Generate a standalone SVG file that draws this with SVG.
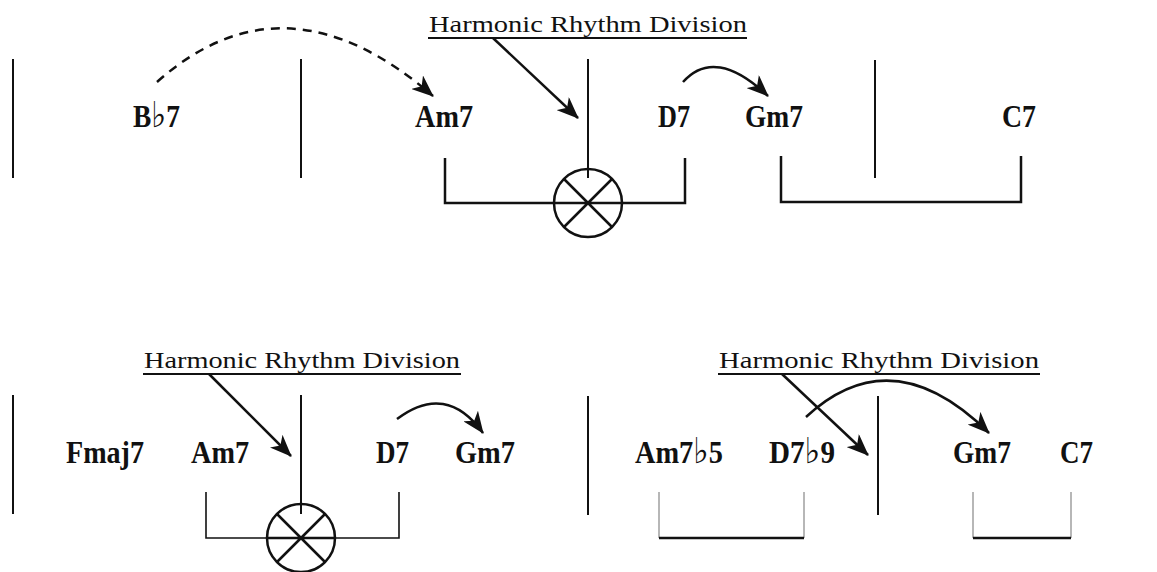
<svg xmlns="http://www.w3.org/2000/svg" width="1157" height="572" viewBox="0 0 1157 572">
<style>
.chord{font-family:"Liberation Serif","Times New Roman",serif;font-weight:bold;font-size:31px;fill:#111}
.flat{font-family:"DejaVu Sans","Liberation Serif",sans-serif;font-weight:normal;font-size:36px}
.hrd{font-family:"Liberation Serif","Times New Roman",serif;font-size:23px;fill:#111}
.bar{stroke:#111;stroke-width:2;fill:none}
.br{stroke:#111;stroke-width:2.5;fill:none}
.arr{stroke:#111;stroke-width:2.5;fill:none;marker-end:url(#ah)}
.circ{stroke:#111;stroke-width:2.5;fill:#fff}
</style>
<defs>
<marker id="ah" markerUnits="userSpaceOnUse" viewBox="0 0 22 18" refX="21" refY="9" markerWidth="22" markerHeight="18" orient="auto">
<path d="M0,0 L22,9 L0,18 L6,9 Z" fill="#111"/>
</marker>
</defs>
<rect width="1157" height="572" fill="#fff"/>

<g id="barlines">
<line class="bar" x1="13" y1="59" x2="13" y2="178"/>
<line class="bar" x1="301" y1="59" x2="301" y2="178"/>
<line class="bar" x1="875" y1="60" x2="875" y2="178"/>
<line class="bar" x1="13" y1="395" x2="13" y2="514"/>
<line class="bar" x1="588" y1="396" x2="588" y2="515"/>
<line class="bar" x1="878" y1="396" x2="878" y2="515"/>
</g>

<g id="top-hrd">
<text class="hrd" x="429" y="32" textLength="318" lengthAdjust="spacingAndGlyphs">Harmonic Rhythm Division</text>
<line x1="428" y1="38" x2="747" y2="38" stroke="#111" stroke-width="2"/>
<path class="br" d="M445,158 V203 H685 V158"/>
<circle class="circ" cx="588" cy="203" r="34"/>
<path d="M564,179 L612,227 M612,179 L564,227 M554,203 H622" stroke="#111" stroke-width="2.5"/>
<line class="bar" x1="588" y1="59" x2="588" y2="178"/>
</g>

<g id="top-bracket2">
<path class="br" d="M781,156 V202 H1021 V156"/>
</g>

<g id="top-chords">
<text class="chord" x="133" y="127" textLength="47" lengthAdjust="spacingAndGlyphs">B<tspan class="flat">♭</tspan>7</text>
<text class="chord" x="415" y="127" textLength="58" lengthAdjust="spacingAndGlyphs">Am7</text>
<text class="chord" x="658" y="127" textLength="32" lengthAdjust="spacingAndGlyphs">D7</text>
<text class="chord" x="745" y="127" textLength="58" lengthAdjust="spacingAndGlyphs">Gm7</text>
<text class="chord" x="1002" y="127" textLength="34" lengthAdjust="spacingAndGlyphs">C7</text>
</g>

<g id="bl-hrd">
<text class="hrd" x="144" y="368" textLength="316" lengthAdjust="spacingAndGlyphs">Harmonic Rhythm Division</text>
<line x1="143" y1="374" x2="461" y2="374" stroke="#111" stroke-width="2"/>
<path d="M206,492 V538 H399 V492" stroke="#111" stroke-width="1.6" fill="none"/>
<circle class="circ" cx="301" cy="538" r="34"/>
<path d="M277,514 L325,562 M325,514 L277,562 M267,538 H335" stroke="#111" stroke-width="2.5"/>
<line class="bar" x1="301" y1="395" x2="301" y2="514"/>
</g>

<g id="bottom-chords">
<text class="chord" x="66" y="463" textLength="78" lengthAdjust="spacingAndGlyphs">Fmaj7</text>
<text class="chord" x="191" y="463" textLength="58" lengthAdjust="spacingAndGlyphs">Am7</text>
<text class="chord" x="376" y="463" textLength="33" lengthAdjust="spacingAndGlyphs">D7</text>
<text class="chord" x="455" y="463" textLength="60" lengthAdjust="spacingAndGlyphs">Gm7</text>
<text class="chord" x="635" y="463" textLength="88" lengthAdjust="spacingAndGlyphs">Am7<tspan class="flat">♭</tspan>5</text>
<text class="chord" x="769" y="463" textLength="66" lengthAdjust="spacingAndGlyphs">D7<tspan class="flat">♭</tspan>9</text>
<text class="chord" x="953" y="463" textLength="58" lengthAdjust="spacingAndGlyphs">Gm7</text>
<text class="chord" x="1060" y="463" textLength="33" lengthAdjust="spacingAndGlyphs">C7</text>
</g>

<g id="br-hrd">
<text class="hrd" x="719" y="368" textLength="320" lengthAdjust="spacingAndGlyphs">Harmonic Rhythm Division</text>
<line x1="718" y1="374" x2="1040" y2="374" stroke="#111" stroke-width="2"/>
</g>

<g id="br-brackets">
<path d="M659,492 V538 M804,492 V538 M973,492 V538 M1071,492 V538" stroke="#888" stroke-width="1.2" fill="none"/>
<path d="M659,538 H804 M973,538 H1071" stroke="#111" stroke-width="2.5"/>
</g>

<g id="connectors">
<path class="arr" d="M157,82 Q285,-32 433,96" stroke-dasharray="9,7"/>
<line class="arr" x1="493" y1="38" x2="578" y2="118"/>
<path class="arr" d="M683,82 Q715,46 768,96"/>
<line class="arr" x1="209" y1="374" x2="291" y2="456"/>
<path class="arr" d="M397,419 Q446,382 483,433"/>
<line class="arr" x1="782" y1="374" x2="868" y2="455"/>
<path class="arr" d="M806,417 Q892,337 989,433"/>
</g>
</svg>
